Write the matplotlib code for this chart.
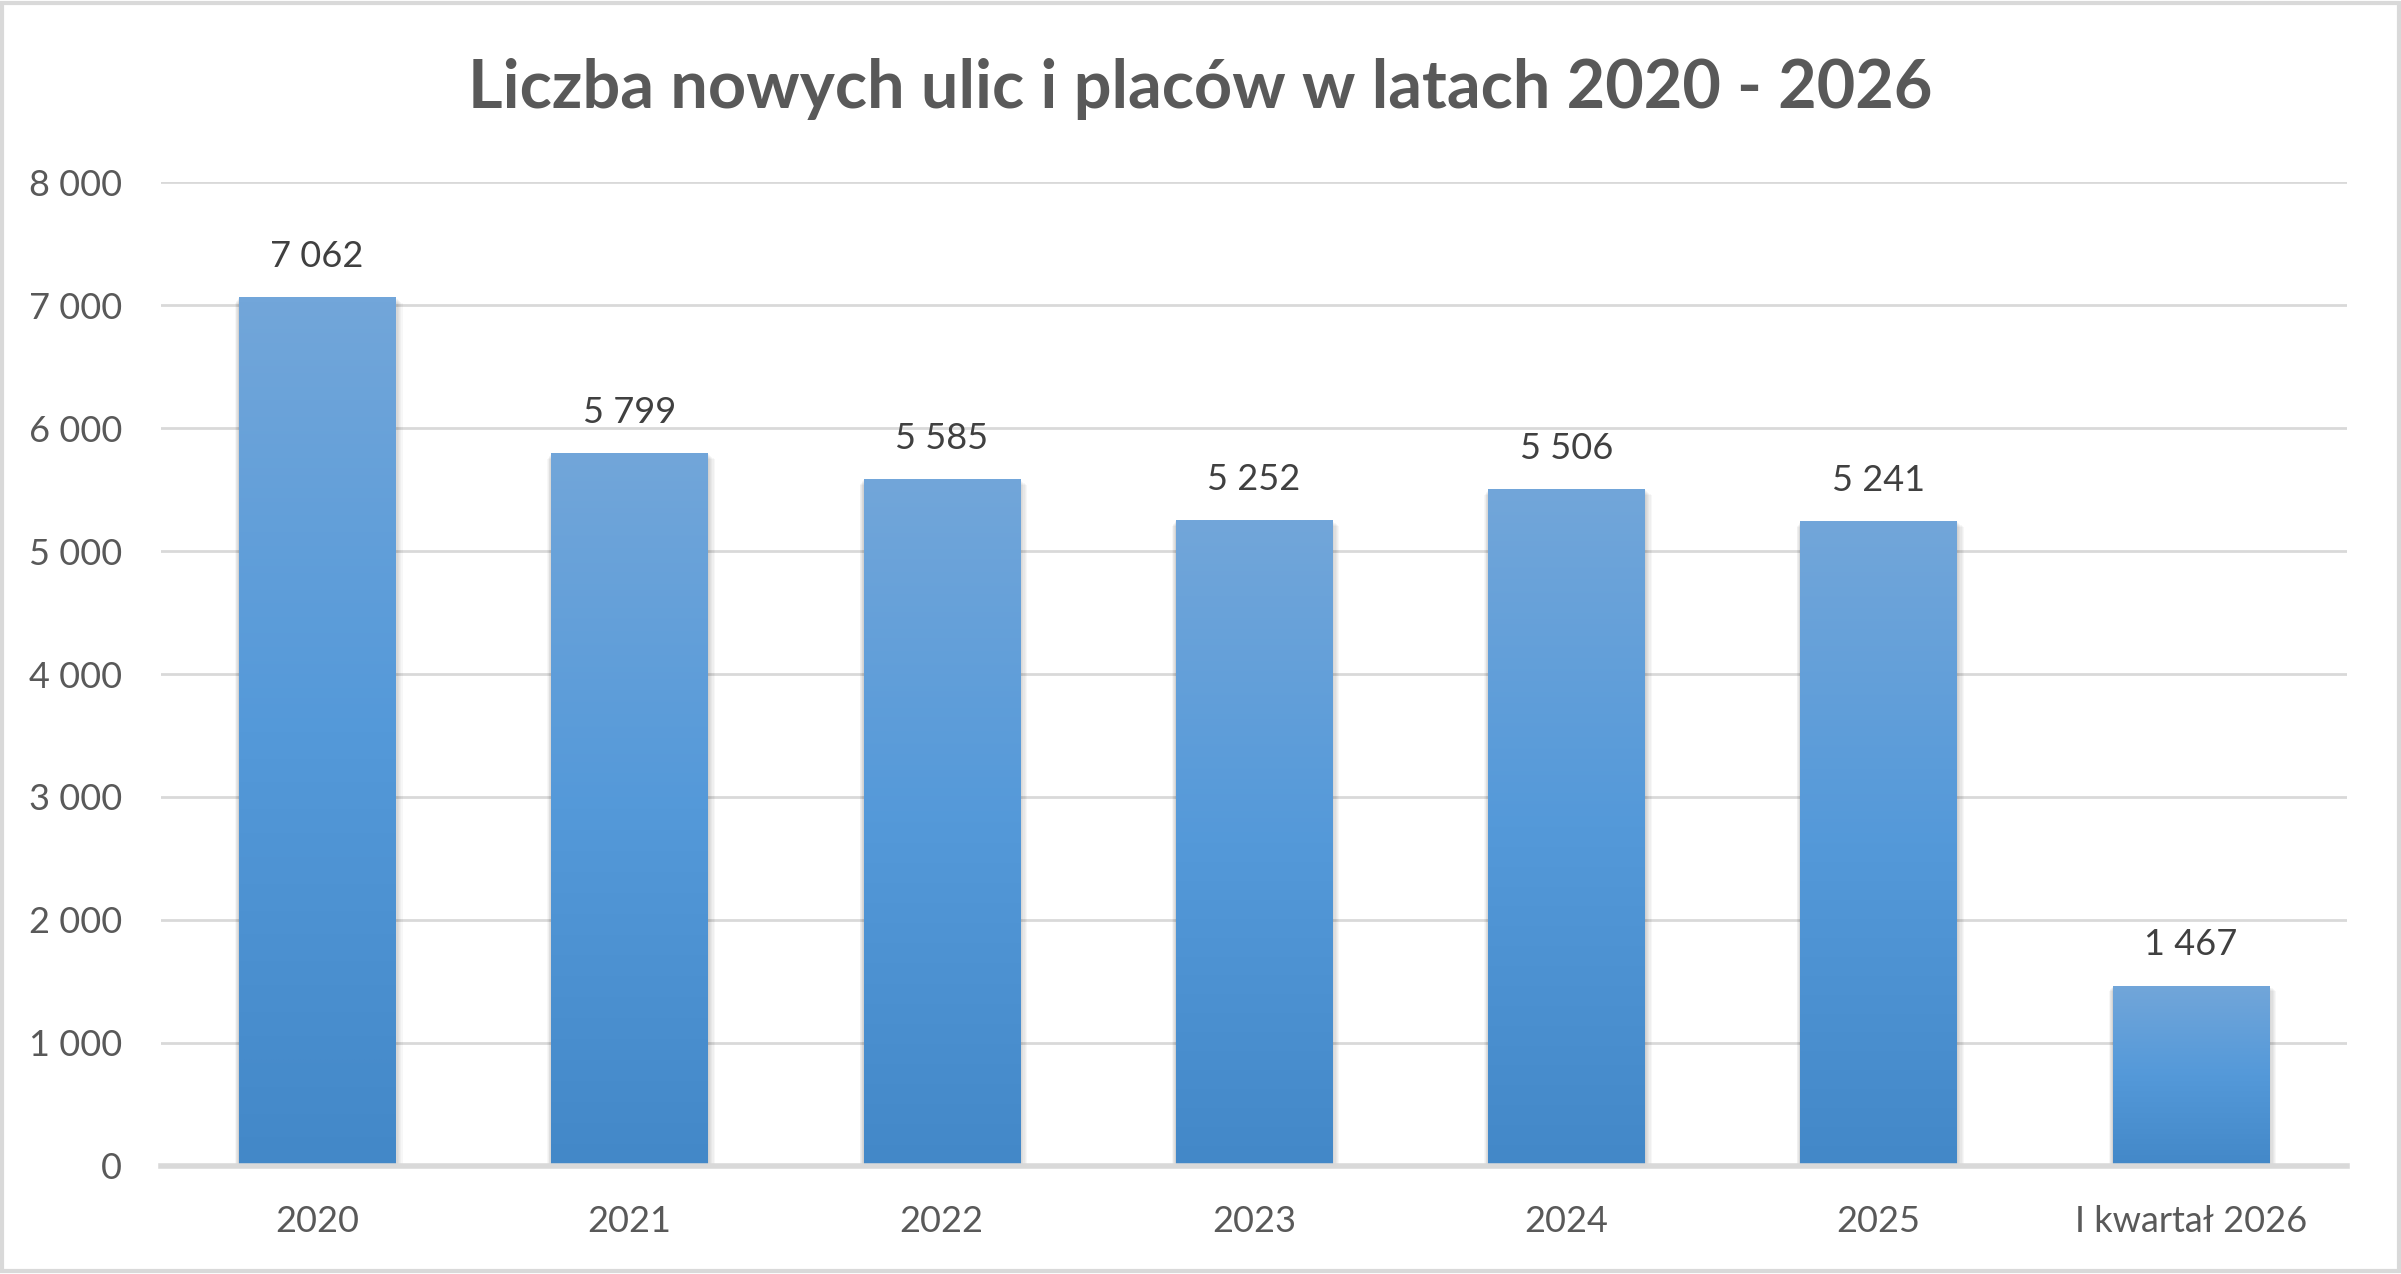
import numpy as np
import matplotlib
matplotlib.use("Agg")
import matplotlib.pyplot as plt
from matplotlib.colors import LinearSegmentedColormap
from matplotlib.patches import Rectangle

categories = ["2020", "2021", "2022", "2023", "2024", "2025", "I kwartał 2026"]
values = [7062, 5799, 5585, 5252, 5506, 5241, 1467]
y_ticks = [0, 1000, 2000, 3000, 4000, 5000, 6000, 7000, 8000]
title = "Liczba nowych ulic i placów w latach 2020 - 2026"


def fmt(v):
    return f"{v:,}".replace(",", " ")


plt.rcParams["font.family"] = ["Lato", "DejaVu Sans"]

fig = plt.figure(figsize=(24.01, 12.74), dpi=100)
ax = fig.add_axes([0.067, 0.0848, 0.9105, 0.7723])

# light frame around the whole chart
fig.patches.append(Rectangle((0.001, 0.002), 0.998, 0.996, transform=fig.transFigure,
                             fill=False, edgecolor="#d9d9d9", linewidth=3))

x = np.arange(len(categories))
bars = ax.bar(x, values, width=0.5, color="#5b9bd5", zorder=3)

grad = LinearSegmentedColormap.from_list("g", ["#4388c8", "#5499d9", "#72a6da"])
gimg = np.linspace(0, 1, 256).reshape(-1, 1)
for b in bars:
    x0, w, h = b.get_x(), b.get_width(), b.get_height()
    # soft shadow
    for k in range(1, 7):
        ax.add_patch(Rectangle((x0 - 0.002 * k, 0), w + 0.006 * k, h - 8 * k,
                               facecolor="black", alpha=0.03, edgecolor="none", zorder=2))
    im = ax.imshow(gimg, cmap=grad, origin="lower", extent=[x0, x0 + w, 0, h],
                   aspect="auto", zorder=4, interpolation="bilinear")
    im.set_clip_path(b)
    ax.text(x0 + w / 2, h + 330, fmt(h), ha="center", va="center",
            fontsize=26, color="#404040", zorder=5)

ax.set_xlim(-0.5, len(categories) - 0.5)
ax.set_ylim(0, 8000)
ax.set_yticks(y_ticks)
ax.set_yticklabels([fmt(t) for t in y_ticks])
ax.set_xticks(x)
ax.set_xticklabels(categories)
ax.tick_params(axis="both", length=0, labelsize=26, labelcolor="#595959")
ax.tick_params(axis="y", pad=28)
ax.tick_params(axis="x", pad=28)

ax.grid(axis="y", color="#d9d9d9", linewidth=2, zorder=0)
ax.set_axisbelow(True)
for s in ["top", "right", "left"]:
    ax.spines[s].set_visible(False)
ax.spines["bottom"].set_color("#d9d9d9")
ax.spines["bottom"].set_linewidth(4)
ax.spines["bottom"].set_zorder(6)

fig.text(0.5, 0.930, title, ha="center", va="center", fontsize=48,
         fontweight="bold", color="#595959")

fig.savefig("out.png", dpi=100, facecolor="white")
